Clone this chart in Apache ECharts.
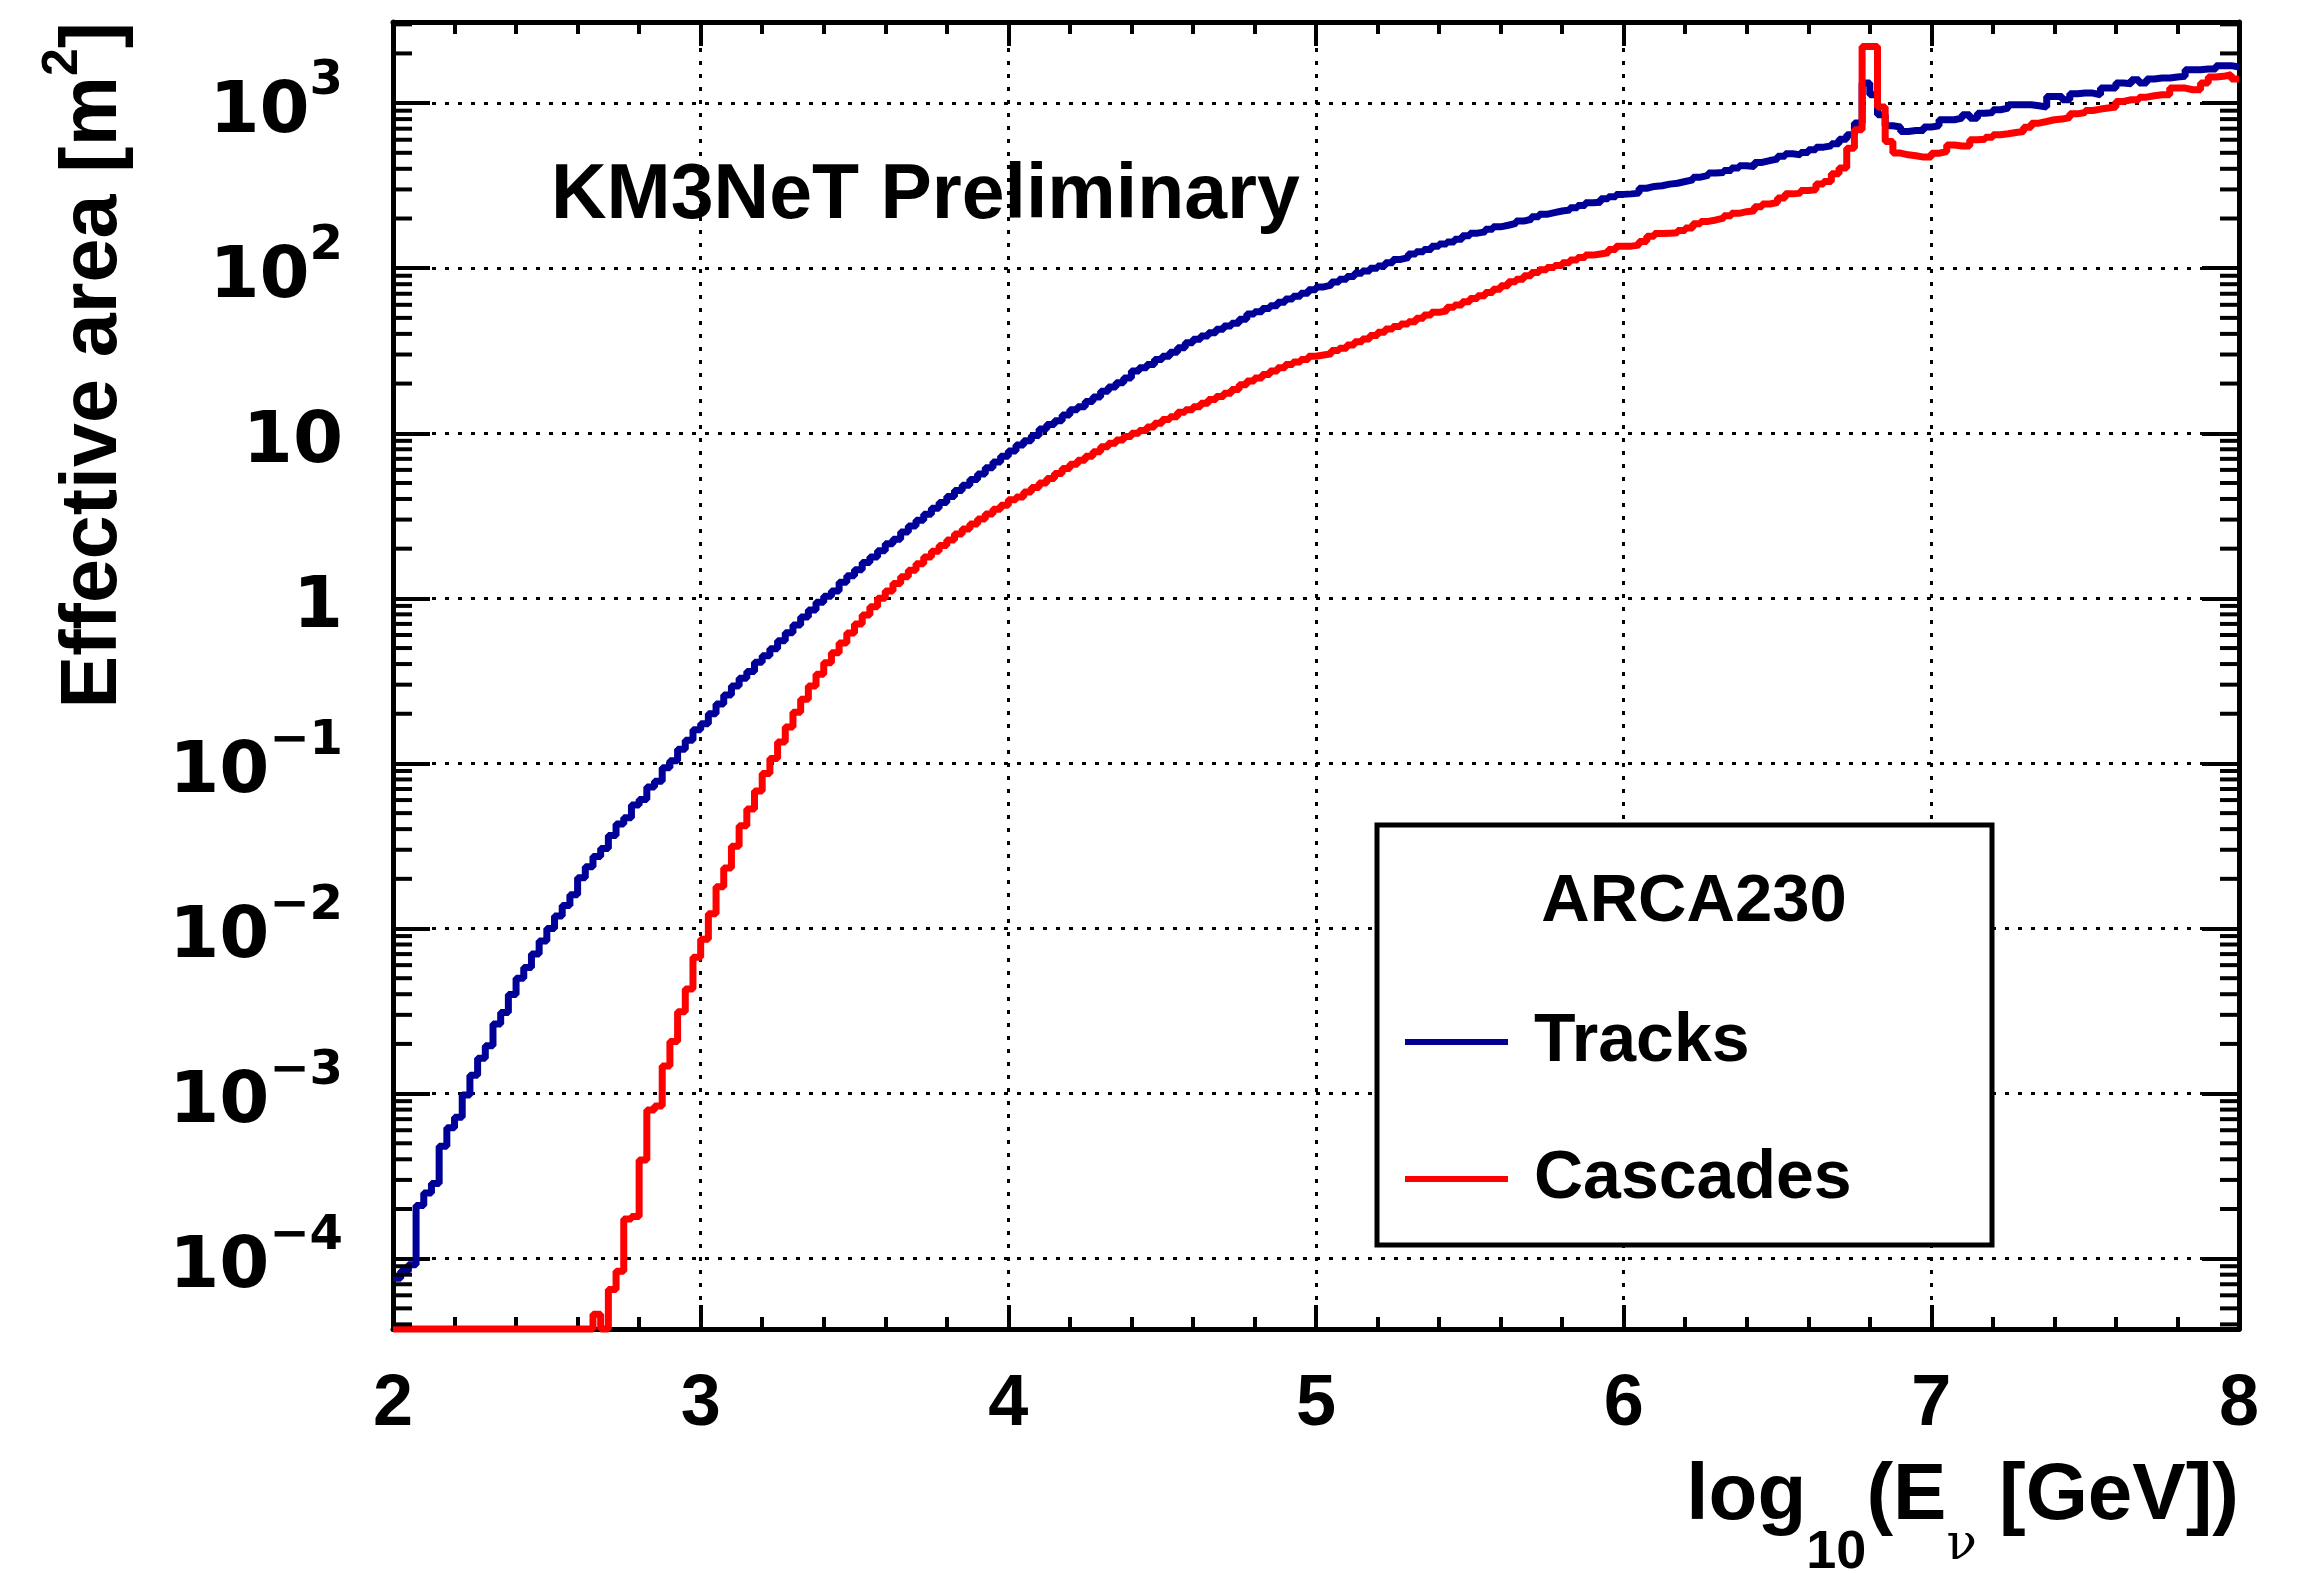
<!DOCTYPE html>
<html>
<head>
<meta charset="utf-8">
<title>ARCA230 effective area</title>
<script src="https://cdn.jsdelivr.net/npm/echarts@6/dist/echarts.min.js"></script>
<style>
  html, body { margin: 0; padding: 0; background: #fff; }
  #chart { width: 2302px; height: 1573px; }
</style>
</head>
<body>
<div id="chart"></div>
<script>
// binning: log10(E/GeV) from 2 to 8, 240 bins of 0.025
const X_MIN = 2
const X_MAX = 8
const BIN_WIDTH = 0.025
const Y_MIN = 3.75e-5
const Y_MAX = 3100

// effective area [m2] per bin
const tracks = [
  7.6e-5, 8.4e-5, 9.2e-5, 2.1e-4, 2.5e-4, 2.85e-4, 4.8e-4, 6.2e-4, 7.2e-4, 9.8e-4,
  1.29e-3, 1.64e-3, 1.95e-3, 2.64e-3, 3.1e-3, 3.98e-3, 5.0e-3, 5.8e-3, 7.0e-3, 8.4e-3,
  1.0e-2, 1.19e-2, 1.38e-2, 1.6e-2, 2.03e-2, 2.37e-2, 2.73e-2, 3.05e-2, 3.66e-2, 4.3e-2,
  4.69e-2, 5.6e-2, 6.05e-2, 7.2e-2, 7.8e-2, 9.4e-2, 0.104, 0.122, 0.138, 0.16,
  0.174, 0.2, 0.229, 0.26, 0.294, 0.328, 0.36, 0.41, 0.449, 0.496,
  0.553, 0.618, 0.69, 0.77, 0.851, 0.946, 1.03, 1.11, 1.25, 1.37,
  1.49, 1.65, 1.78, 1.94, 2.14, 2.28, 2.52, 2.74, 2.97, 3.23,
  3.51, 3.81, 4.14, 4.5, 4.85, 5.25, 5.66, 6.19, 6.69, 7.26,
  7.8, 8.5, 9.0, 9.7, 10.6, 11.3, 11.9, 12.9, 13.9, 14.5,
  15.6, 16.6, 18.0, 19.1, 20.2, 21.6, 23.8, 24.9, 26.1, 28.0,
  29.3, 31.0, 33.0, 35.4, 37.1, 38.8, 40.7, 42.7, 44.7, 46.4,
  49.1, 52.7, 54.5, 57.0, 59.2, 62.1, 65.0, 67.5, 70.4, 74.1,
  77, 78.9, 82.6, 85.7, 89.0, 93.3, 96.3, 100, 103, 108,
  113, 116, 122, 126, 130, 136, 140, 144, 150, 157,
  163, 166, 172, 178, 182, 187, 193, 198, 205, 212,
  217, 222, 225, 232, 240, 249, 251, 263, 271, 280,
  282, 285, 305, 313, 316, 323, 327, 335, 343, 356,
  365, 377, 380, 391, 404, 417, 413, 437, 449, 458,
  476, 493, 486, 502, 521, 541, 551, 567, 605, 643,
  757, 1322, 1123, 850, 729, 716, 673, 683, 683, 716,
  728, 793, 793, 811, 850, 811, 869, 877, 912, 933,
  977, 977, 977, 964, 946, 1097, 1097, 1048, 1140, 1150,
  1150, 1124, 1233, 1233, 1322, 1310, 1386, 1322, 1399, 1419,
  1419, 1439, 1453, 1593, 1593, 1608, 1608, 1686, 1686, 1655
]

const cascades = [
  0, 0, 0, 0, 0, 0, 0, 0, 0, 0,
  0, 0, 0, 0, 0, 0, 0, 0, 0, 0,
  0, 0, 0, 0, 0, 0, 4.6e-5, 0, 6.5e-5, 8.4e-5,
  1.74e-4, 1.8e-4, 3.96e-4, 7.96e-4, 8.4e-4, 1.47e-3, 2.07e-3, 3.13e-3, 4.3e-3, 6.7e-3,
  8.6e-3, 1.23e-2, 1.79e-2, 2.33e-2, 3.15e-2, 4.2e-2, 5.3e-2, 6.8e-2, 8.7e-2, 0.107,
  0.135, 0.166, 0.204, 0.245, 0.295, 0.347, 0.407, 0.468, 0.537, 0.617,
  0.70, 0.794, 0.891, 1.0, 1.11, 1.23, 1.35, 1.48, 1.62, 1.78,
  1.93, 2.09, 2.26, 2.45, 2.63, 2.82, 3.02, 3.24, 3.47, 3.67,
  3.95, 4.11, 4.41, 4.69, 5.0, 5.32, 5.71, 6.12, 6.5, 6.87,
  7.27, 7.73, 8.29, 8.69, 9.1, 9.55, 10.0, 10.4, 10.9, 11.5,
  12.1, 12.6, 13.4, 13.9, 14.5, 15.2, 16.0, 16.7, 17.5, 18.4,
  19.7, 20.7, 21.6, 22.7, 23.8, 24.9, 26.1, 27.0, 28.0, 29.3,
  29.8, 30.3, 31.7, 32.7, 34.3, 35.9, 37.2, 39.1, 40.9, 42.8,
  44.3, 45.9, 47.4, 49.7, 52.0, 54.0, 55.2, 57.9, 59.8, 62.7,
  65.6, 68.1, 71.3, 74.6, 78.2, 82.7, 85.8, 89.9, 94.2, 97.7,
  101, 104, 108, 112, 116, 120, 122, 124, 130, 136,
  136, 138, 145, 156, 162, 163, 164, 169, 175, 186,
  192, 196, 201, 208, 215, 220, 223, 236, 245, 250,
  266, 282, 285, 296, 299, 324, 335, 373, 404, 533,
  689, 2200, 2200, 946, 586, 498, 486, 480, 471, 471,
  497, 508, 558, 550, 550, 599, 604, 622, 643, 652,
  664, 673, 715, 756, 774, 793, 800, 818, 861, 877,
  902, 920, 933, 946, 1024, 1048, 1048, 1087, 1108, 1124,
  1124, 1233, 1233, 1205, 1205, 1322, 1439, 1453, 1486, 1399
]

const seriesNames = ['Tracks', 'Cascades']
const seriesColors = ['#000099', '#ff0000']

const FONT = 'Liberation Sans, Arial, Helvetica, sans-serif'
const LABEL_FONT = 'DejaVu Sans, Liberation Sans, sans-serif'

// histogram -> step points on bin edges, empty bins sit on the frame like ROOT does
function toSteps (values) {
  const pts = values.map(function (v, i) {
    return [X_MIN + i * BIN_WIDTH, Math.max(v, Y_MIN)]
  })
  pts.push([X_MAX, Math.max(values[values.length - 1], Y_MIN)])
  return pts
}

// log minor ticks 2..9 x 10^n
const minorTickValues = []
for (let e = -5; e <= 3; e++) {
  for (let m = 2; m <= 9; m++) {
    const v = m * Math.pow(10, e)
    if (v > Y_MIN && v < Y_MAX) minorTickValues.push([X_MIN, v])
  }
}

const axisLineStyle = { color: '#000', width: 5 }
const tickStyle = { color: '#000', width: 4 }

function xAxisDef (pos, showLabel) {
  return {
    type: 'value',
    position: pos,
    min: X_MIN,
    max: X_MAX,
    interval: 1,
    axisLine: { show: true, onZero: false, lineStyle: axisLineStyle },
    axisTick: { show: true, inside: true, length: 24, lineStyle: tickStyle },
    minorTick: { show: true, splitNumber: 5, length: 12, lineStyle: tickStyle },
    axisLabel: {
      show: showLabel,
      margin: 40,
      color: '#000',
      fontSize: 72,
      fontWeight: 'bold',
      fontFamily: FONT
    },
    splitLine: {
      show: showLabel,
      lineStyle: { color: '#000', width: 3, type: [4, 9] }
    }
  }
}

function yAxisDef (pos, showLabel) {
  return {
    type: 'log',
    logBase: 10,
    position: pos,
    min: Y_MIN,
    max: Y_MAX,
    splitNumber: 8,
    axisLine: { show: true, onZero: false, lineStyle: axisLineStyle },
    axisTick: { show: true, inside: true, length: 37, lineStyle: tickStyle },
    axisLabel: {
      show: showLabel,
      margin: 50,
      showMinLabel: false,
      showMaxLabel: false,
      formatter: function (v) {
        const e = Math.log10(v)
        const n = Math.round(e)
        if (Math.abs(e - n) > 1e-6) return ''
        if (n === 0) return '{b|1}'
        if (n === 1) return '{b|10}'
        return '{b|10}{s|' + (n < 0 ? '\u2212' + (-n) : n) + '}'
      },
      rich: {
        b: { fontFamily: LABEL_FONT, fontWeight: 'bold', fontSize: 72, color: '#000', lineHeight: 92, verticalAlign: 'bottom' },
        s: { fontFamily: LABEL_FONT, fontWeight: 'bold', fontSize: 48, color: '#000', lineHeight: 48, verticalAlign: 'top' }
      }
    },
    splitLine: {
      show: showLabel,
      lineStyle: { color: '#000', width: 3, type: [4, 9] }
    }
  }
}

const chart = echarts.init(document.getElementById('chart'))

const option = {
  animation: false,
  backgroundColor: '#fff',
  grid: { left: 393, right: 63, top: 22, bottom: 244, outerBoundsMode: 'none' },
  xAxis: [xAxisDef('bottom', true), xAxisDef('top', false)],
  yAxis: [yAxisDef('left', true), yAxisDef('right', false)],
  legend: {
    data: seriesNames,
    orient: 'vertical',
    left: 1377,
    top: 825,
    padding: [177, 78, 26, 28],
    itemWidth: 103,
    itemHeight: 6,
    itemGap: 57,
    icon: 'rect',
    selectedMode: false,
    borderColor: '#000',
    borderWidth: 5,
    backgroundColor: '#fff',
    textStyle: {
      color: '#000',
      fontSize: 68,
      fontWeight: 'bold',
      fontFamily: FONT,
      lineHeight: 80,
      width: 380,
      padding: [0, 0, 0, 21]
    }
  },
  graphic: [
    {
      type: 'text',
      x: 551,
      y: 197,
      style: { text: 'KM3NeT Preliminary', fontSize: 77, fontWeight: 'bold', fontFamily: FONT, fill: '#000', align: 'left', verticalAlign: 'middle' }
    },
    {
      type: 'text',
      x: 1694,
      y: 903,
      z: 100,
      style: { text: 'ARCA230', fontSize: 67, fontWeight: 'bold', fontFamily: FONT, fill: '#000', align: 'center', verticalAlign: 'middle' }
    },
    {
      type: 'text',
      x: 86,
      y: 22,
      rotation: Math.PI / 2,
      style: {
        text: '{a|Effective area [m}{s|2}{a|]}',
        align: 'right',
        verticalAlign: 'middle',
        rich: {
          a: { fontSize: 79, fontWeight: 'bold', fontFamily: FONT, fill: '#000', lineHeight: 96, verticalAlign: 'bottom' },
          s: { fontSize: 50, fontWeight: 'bold', fontFamily: FONT, fill: '#000', lineHeight: 50, verticalAlign: 'top' }
        }
      }
    },
    {
      type: 'text',
      x: 2239,
      y: 1457,
      style: {
        text: '{a|log}{s|10}{a|(E}{n|\u03bd}{a| [GeV])}',
        align: 'right',
        verticalAlign: 'top',
        rich: {
          a: { fontSize: 80, fontWeight: 'bold', fontFamily: FONT, fill: '#000', lineHeight: 80, verticalAlign: 'top' },
          s: { fontSize: 54, fontWeight: 'bold', fontFamily: FONT, fill: '#000', lineHeight: 54, padding: [69, 0, 0, 0], verticalAlign: 'top' },
          n: { fontSize: 50, fontFamily: 'DejaVu Serif, serif', fill: '#000', lineHeight: 50, padding: [64, 0, 0, 0], verticalAlign: 'top' }
        }
      }
    }
  ],
  series: [
    {
      name: 'minorTicks',
      type: 'custom',
      silent: true,
      z: 5,
      data: minorTickValues,
      renderItem: function (params, api) {
        const y = api.coord([api.value(0), api.value(1)])[1]
        const cs = params.coordSys
        const st = { stroke: '#000', lineWidth: 4 }
        return {
          type: 'group',
          children: [
            { type: 'line', shape: { x1: cs.x, y1: y, x2: cs.x + 19, y2: y }, style: st },
            { type: 'line', shape: { x1: cs.x + cs.width - 19, y1: y, x2: cs.x + cs.width, y2: y }, style: st }
          ]
        }
      }
    },
    {
      name: seriesNames[0],
      type: 'line',
      step: 'end',
      data: toSteps(tracks),
      symbol: 'none',
      clip: false,
      z: 3,
      itemStyle: { color: seriesColors[0] },
      lineStyle: { color: seriesColors[0], width: 7 }
    },
    {
      name: seriesNames[1],
      type: 'line',
      step: 'end',
      data: toSteps(cascades),
      symbol: 'none',
      clip: false,
      z: 4,
      itemStyle: { color: seriesColors[1] },
      lineStyle: { color: seriesColors[1], width: 7 }
    }
  ]
}

chart.setOption(option)
</script>
</body>
</html>
